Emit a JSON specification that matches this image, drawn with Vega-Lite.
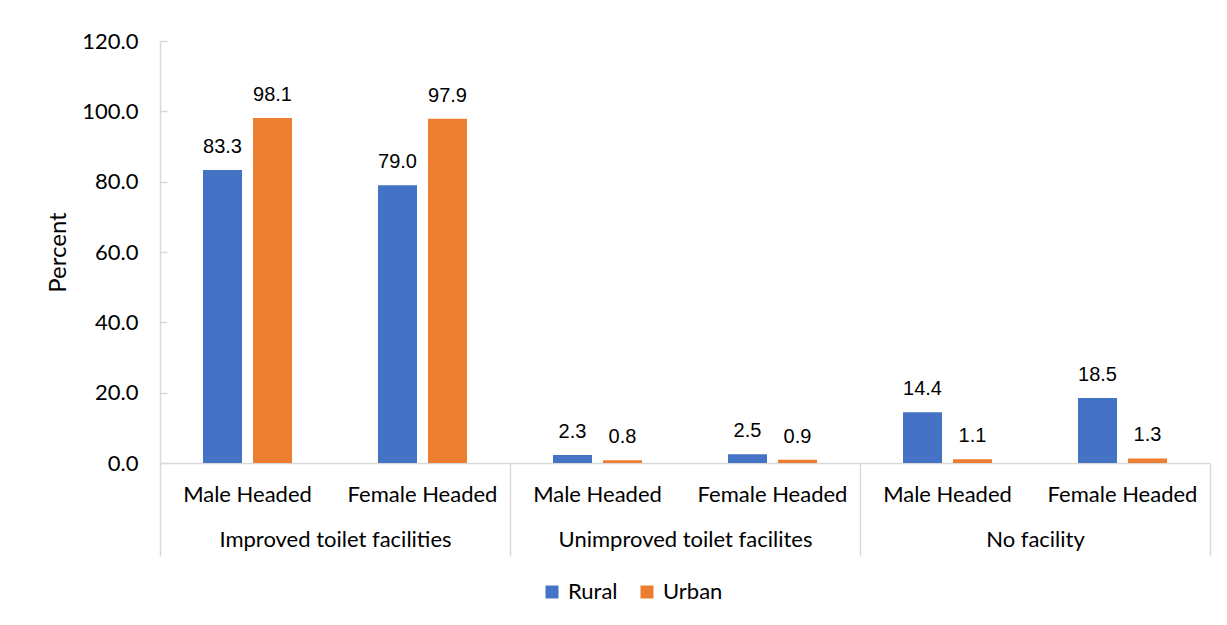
{
  "$schema": "https://vega.github.io/schema/vega-lite/v6.json",
  "width": 1050,
  "height": 422,
  "autosize": {"type": "none"},
  "padding": {"left": 160, "top": 41, "right": 17, "bottom": 162},
  "background": "white",
  "config": {"view": {"stroke": null}, "font": "Lato"},
  "data": {
    "values": [
      {"group": "Improved toilet facilities", "key": "Improved toilet facilities|Male Headed", "area": "Rural", "value": 83.3},
      {"group": "Improved toilet facilities", "key": "Improved toilet facilities|Male Headed", "area": "Urban", "value": 98.1},
      {"group": "Improved toilet facilities", "key": "Improved toilet facilities|Female Headed", "area": "Rural", "value": 79.0},
      {"group": "Improved toilet facilities", "key": "Improved toilet facilities|Female Headed", "area": "Urban", "value": 97.9},
      {"group": "Unimproved toilet facilites", "key": "Unimproved toilet facilites|Male Headed", "area": "Rural", "value": 2.3},
      {"group": "Unimproved toilet facilites", "key": "Unimproved toilet facilites|Male Headed", "area": "Urban", "value": 0.8},
      {"group": "Unimproved toilet facilites", "key": "Unimproved toilet facilites|Female Headed", "area": "Rural", "value": 2.5},
      {"group": "Unimproved toilet facilites", "key": "Unimproved toilet facilites|Female Headed", "area": "Urban", "value": 0.9},
      {"group": "No facility", "key": "No facility|Male Headed", "area": "Rural", "value": 14.4},
      {"group": "No facility", "key": "No facility|Male Headed", "area": "Urban", "value": 1.1},
      {"group": "No facility", "key": "No facility|Female Headed", "area": "Rural", "value": 18.5},
      {"group": "No facility", "key": "No facility|Female Headed", "area": "Urban", "value": 1.3}
    ]
  },
  "layer": [
    {
      "encoding": {
        "x": {
          "field": "key", "type": "nominal",
          "sort": ["Improved toilet facilities|Male Headed", "Improved toilet facilities|Female Headed", "Unimproved toilet facilites|Male Headed", "Unimproved toilet facilites|Female Headed", "No facility|Male Headed", "No facility|Female Headed"],
          "scale": {"paddingInner": 0, "paddingOuter": 0},
          "axis": {"title": null, "labelExpr": "split(datum.label, '|')[1]", "ticks": false, "domain": false, "labelAngle": 0, "labelFont": "Lato", "labelFontSize": 22, "labelColor": "#000000", "labelPadding": 21, "labelLimit": 0}
        },
        "xOffset": {"field": "area", "type": "nominal", "scale": {"paddingInner": 0.22, "paddingOuter": 0.86}},
        "y": {
          "field": "value", "type": "quantitative",
          "scale": {"domain": [0, 120]},
          "axis": {"title": "Percent", "values": [0, 20, 40, 60, 80, 100, 120], "format": ".1f", "grid": false, "domainColor": "#d9d9d9", "domainWidth": 1.5, "tickColor": "#d9d9d9", "tickWidth": 1.5, "tickSize": -7, "labelPadding": 29, "labelFont": "Lato", "labelFontSize": 22, "labelColor": "#000000", "titleFont": "Lato", "titleFontSize": 24, "titleFontWeight": "normal", "titleColor": "#000000", "titlePadding": 11}
        }
      },
      "layer": [
        {
          "mark": {"type": "bar"},
          "encoding": {
            "color": {
              "field": "area", "type": "nominal",
              "scale": {"domain": ["Rural", "Urban"], "range": ["#4472C4", "#ED7D31"]},
              "legend": {"title": null, "orient": "none", "legendX": 381, "legendY": 540, "direction": "horizontal", "symbolType": "square", "symbolSize": 169, "symbolStrokeWidth": 0, "labelFont": "Lato", "labelFontSize": 22, "labelColor": "#000000", "labelOffset": 5, "columnPadding": 18, "padding": 0}
            }
          }
        },
        {
          "mark": {"type": "text", "baseline": "alphabetic", "dy": -17, "font": "Liberation Sans", "fontSize": 20, "color": "#000000"},
          "encoding": {
            "text": {"field": "value", "type": "quantitative", "format": ".1f"}
          }
        }
      ]
    },
    {
      "mark": {"type": "rule", "opacity": 0},
      "encoding": {
        "x": {
          "field": "group", "type": "nominal",
          "sort": ["Improved toilet facilities", "Unimproved toilet facilites", "No facility"],
          "scale": {"paddingInner": 0, "paddingOuter": 0},
          "axis": {"title": null, "orient": "bottom", "domain": true, "domainColor": "#d9d9d9", "domainWidth": 1.5, "ticks": true, "tickBand": "extent", "tickSize": 93, "tickColor": "#d9d9d9", "tickWidth": 1.5, "labelPadding": -27, "labelAngle": 0, "labelFont": "Lato", "labelFontSize": 22, "labelColor": "#000000", "labelLimit": 0}
        }
      }
    }
  ],
  "resolve": {"scale": {"x": "independent"}, "axis": {"x": "independent"}}
}
